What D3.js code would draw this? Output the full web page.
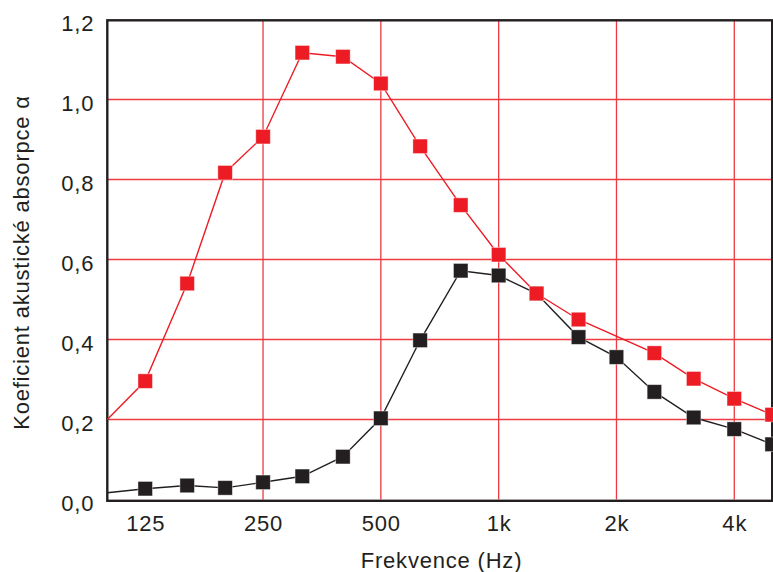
<!DOCTYPE html>
<html>
<head>
<meta charset="utf-8">
<script src="https://cdn.jsdelivr.net/npm/d3@7"></script>
<style>
  html, body { margin: 0; padding: 0; background: #fff; }
  svg { display: block; }
  text { font-family: "Liberation Sans", Arial, Helvetica, sans-serif; fill: #231f20; }
</style>
</head>
<body>
<svg id="chart" width="773" height="572"></svg>
<script>
// ---- data ----
const frequencies = [100, 125, 160, 200, 250, 315, 400, 500, 630, 800, 1000, 1250, 1600, 2000, 2500, 3150, 4000, 5000];
const redSeries   = [0.20, 0.296, 0.54, 0.817, 0.907, 1.117, 1.107, 1.04, 0.883, 0.736, 0.612, 0.515, 0.45, null, 0.366, 0.302, 0.252, 0.212];
const blackSeries = [0.017, 0.027, 0.035, 0.029, 0.043, 0.058, 0.107, 0.203, 0.398, 0.572, 0.56, 0.515, 0.406, 0.356, 0.269, 0.205, 0.176, 0.138];
const xTickValues = [125, 250, 500, 1000, 2000, 4000];
const xTickLabels = ["125", "250", "500", "1k", "2k", "4k"];
const xGridValues = [250, 500, 1000, 2000, 4000];
const yTickValues = [0, 0.2, 0.4, 0.6, 0.8, 1.0, 1.2];
const xTitle = "Frekvence (Hz)";
const yTitle = "Koeficient akustické absorpce α";

// ---- layout ----
const svg = d3.select("#chart");
const pLeft = 107.3, pRight = 772.2, pTop = 19.5, pBottom = 499.5;
const red = "#ed1c24", gridRed = "#ee3a42", black = "#231f20";
const fontSize = "22px", spacing = "0.8px";

const x = d3.scaleLog().domain([100, 5000]).range([pLeft, pRight]);
const y = d3.scaleLinear().domain([0, 1.2]).range([pBottom, pTop]);

// grid
const grid = svg.append("g");
grid.selectAll("line.h").data(yTickValues.filter(v => v > 0 && v < 1.2)).join("line")
  .attr("class", "h")
  .attr("x1", pLeft).attr("x2", pRight)
  .attr("y1", d => y(d)).attr("y2", d => y(d))
  .attr("stroke", gridRed).attr("stroke-width", 1.3);
grid.selectAll("line.v").data(xGridValues).join("line")
  .attr("class", "v")
  .attr("x1", d => x(d)).attr("x2", d => x(d))
  .attr("y1", pTop).attr("y2", pBottom)
  .attr("stroke", gridRed).attr("stroke-width", 1.3);

// frame
svg.append("rect")
  .attr("x", pLeft).attr("y", pTop + 0.8)
  .attr("width", pRight - pLeft).attr("height", pBottom - pTop + 0.5)
  .attr("fill", "none").attr("stroke", black).attr("stroke-width", 2.4);

// axes (labels only, via d3 axes)
const xAxis = d3.axisBottom(x).tickValues(xTickValues)
  .tickFormat((d, i) => xTickLabels[i]).tickSize(0).tickPadding(0);
const gx = svg.append("g").attr("transform", `translate(0,${pBottom})`).call(xAxis);
gx.select(".domain").remove();
gx.attr("font-family", null).attr("font-size", null);
gx.selectAll("text").attr("dy", null).attr("y", 31)
  .style("font-size", fontSize).style("letter-spacing", spacing)
  .attr("fill", black);

const yAxis = d3.axisLeft(y).tickValues(yTickValues)
  .tickFormat(d => d3.format(".1f")(d).replace(".", ",")).tickSize(0).tickPadding(0);
const gy = svg.append("g").attr("transform", `translate(${pLeft - 13},0)`).call(yAxis);
gy.select(".domain").remove();
gy.attr("font-family", null).attr("font-size", null);
gy.selectAll("text").attr("dy", "0.5em").attr("x", 0)
  .style("font-size", fontSize).style("letter-spacing", spacing)
  .attr("fill", black);

// titles
svg.append("text")
  .attr("x", 441.5).attr("y", 568)
  .attr("text-anchor", "middle")
  .style("font-size", fontSize).style("letter-spacing", spacing)
  .text(xTitle);
svg.append("text")
  .attr("transform", "translate(28.5,262.5) rotate(-90)")
  .attr("text-anchor", "middle")
  .style("font-size", fontSize).style("letter-spacing", spacing)
  .text(yTitle);

// series
function drawSeries(values, color) {
  const pts = frequencies.map((f, i) => ({ f, v: values[i] })).filter(d => d.v !== null);
  const line = d3.line().x(d => x(d.f)).y(d => y(d.v));
  svg.append("path").datum(pts)
    .attr("d", line).attr("fill", "none")
    .attr("stroke", color).attr("stroke-width", 1.4);
  const s = 14.5;
  svg.append("g").selectAll("rect").data(pts.filter(d => d.f > x.domain()[0])).join("rect")
    .attr("x", d => x(d.f) - s / 2).attr("y", d => y(d.v) - s / 2)
    .attr("width", s).attr("height", s)
    .attr("fill", color)
    .attr("stroke", "#ffffff").attr("stroke-opacity", 0.5).attr("stroke-width", 0.8);
}
drawSeries(blackSeries, black);
drawSeries(redSeries, red);
</script>
</body>
</html>
